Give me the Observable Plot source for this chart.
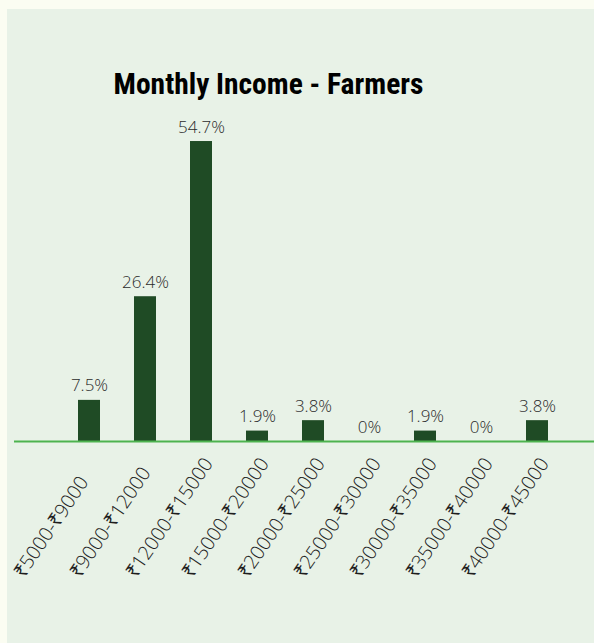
<!DOCTYPE html>
<html>
<head>
<meta charset="utf-8">
<script src="https://cdn.jsdelivr.net/npm/d3@7"></script>
<script src="https://cdn.jsdelivr.net/npm/@observablehq/plot@0.6"></script>
<style>
  html, body { margin: 0; padding: 0; background: #fbfdf2; width: 594px; height: 643px; overflow: hidden; }
  #panel { position: absolute; left: 7px; top: 9px; width: 587px; height: 634px; background: #e8f2e7; }
  #title { position: absolute; left: 0; top: 70px; width: 537px; text-align: center;
    font-family: "Liberation Sans Narrow", "Roboto Condensed", "DejaVu Sans Condensed", "Open Sans", sans-serif;
    font-stretch: condensed; font-weight: bold; font-size: 29.5px; line-height: 29px; color: #000; }
  #chart { position: absolute; left: 0; top: 0; }
</style>
</head>
<body>
<div id="panel"></div>
<div id="title">Monthly Income - Farmers</div>
<div id="chart"></div>
<script>
const categories = ["₹5000-₹9000", "₹9000-₹12000", "₹12000-₹15000", "₹15000-₹20000", "₹20000-₹25000",
                    "₹25000-₹30000", "₹30000-₹35000", "₹35000-₹40000", "₹40000-₹45000"];
const percentages = [7.5, 26.4, 54.7, 1.9, 3.8, 0, 1.9, 0, 3.8];

const data = categories.map((c, i) => ({category: c, value: percentages[i]}));

const chart = Plot.plot({
  width: 594,
  height: 643,
  marginLeft: 14,
  marginRight: 0,
  marginTop: 0,
  marginBottom: 0,
  style: {background: "transparent", fontFamily: "'Open Sans', sans-serif"},
  x: {type: "band", domain: categories, range: [61, 565], paddingInner: 0.6, paddingOuter: 0.3, label: null},
  y: {domain: [0, 60], range: [441, 441 - 60 * 5.484], axis: null},
  marks: [
    Plot.barY(data, {x: "category", y: "value", fill: "#1f4b25"}),
    Plot.ruleY([0], {stroke: "#4db34f", strokeWidth: 2}),
    Plot.text(data, {x: "category", y: "value", text: d => d.value + "%", lineAnchor: "bottom", dy: -9,
      fontSize: 17, fontWeight: 300, fill: "#2b2b2b", fontFamily: "'Open Sans', sans-serif"}),
    Plot.axisX({anchor: "bottom", tickSize: 0, tickRotate: -56, textAnchor: "start", lineAnchor: "middle",
      fontSize: 19.5, fontWeight: 300, label: null,
      y: 0, dy: 123, dx: -71, frameAnchor: null, fill: "#1e1e1e"})
  ]
});
document.getElementById("chart").appendChild(chart);
</script>
</body>
</html>
